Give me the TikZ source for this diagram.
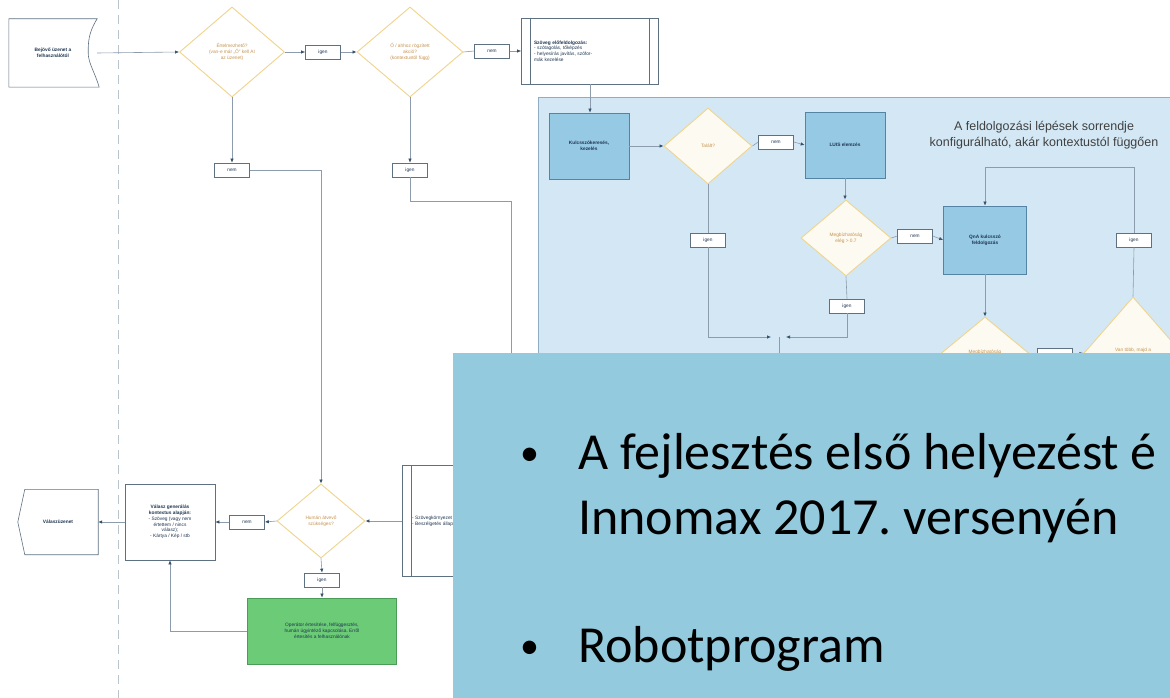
\documentclass[tikz,border=0pt]{standalone}
\usepackage{fontspec}
\setmainfont{Liberation Sans}
\newfontfamily\slidefont{Carlito}
\usetikzlibrary{arrows.meta, shapes.geometric, calc}
\definecolor{flline}{HTML}{8C9CAC}
\definecolor{fltip}{HTML}{34506A}
\definecolor{fledge}{HTML}{5E7182}
\definecolor{flnavy}{HTML}{1E3552}
\definecolor{diaedge}{HTML}{F0D48E}
\definecolor{diatext}{HTML}{C8934E}
\definecolor{panelfill}{HTML}{D3E8F4}
\definecolor{paneledge}{HTML}{8FAEC4}
\definecolor{keyfill}{HTML}{96C9E4}
\definecolor{keyedge}{HTML}{5583A3}
\definecolor{opfill}{HTML}{6CCB76}
\definecolor{opedge}{HTML}{4B9C56}
\definecolor{slidefill}{HTML}{93CADD}
\frenchspacing

\begin{document}
\begin{tikzpicture}[x=1pt, y=-1pt,
    font=\fontsize{4.8}{5.8}\selectfont,
    edge/.style={draw=fledge, line width=0.6pt},
    ln/.style={draw=flline, line width=0.6pt},
    arr/.style={ln, -{Latex[length=4pt, width=3.4pt, color=fltip]}},
    lbl/.style={draw=fledge, fill=white, line width=0.6pt, minimum width=35,
                minimum height=14, inner sep=1pt, text=flnavy},
    dia/.style={diamond, draw=diaedge, fill=white, line width=0.9pt, inner sep=0pt,
                align=center, text=diatext},
    dia2/.style={dia, fill=white!88!diaedge},
    proc/.style={draw=fledge, fill=white, line width=0.6pt, align=center,
                 inner sep=2pt, text=flnavy},
    keybox/.style={draw=keyedge, fill=keyfill, line width=0.7pt, align=center,
                   minimum width=80, minimum height=66, text=flnavy, font=\fontsize{4.8}{5.8}\selectfont\bfseries},
    opbox/.style={draw=opedge, fill=opfill, line width=0.7pt, align=center,
                  minimum width=149, minimum height=66, text=flnavy},
    btxt/.style={anchor=base west, inner sep=0pt, text=black,
                 font=\slidefont\fontsize{52}{65}\selectfont}]

  \useasboundingbox (0,0) rectangle (1170,698);
  \fill[white] (0,0) rectangle (1170,698);

  % lane divider
  \draw[flline!60, line width=0.8pt, dash pattern=on 9pt off 6pt] (118,0) -- (118,698);

  % ---- top row ----
  \node[draw=none, minimum width=88, minimum height=68, align=center,
        text=flnavy, font=\fontsize{4.8}{5.8}\selectfont\bfseries] (msg) at (53,53)
        {Bejövő üzenet a\\felhasználótól};
  \draw[edge] (msg.north west) -- (msg.north east)
     .. controls ($(msg.north east)+(-9,14)$) and ($(msg.east)+(-9,-10)$) .. ($(msg.east)+(-9,0)$)
     .. controls ($(msg.east)+(-9,10)$) and ($(msg.south east)+(-2,-14)$) .. ($(msg.south east)+(2,0)$)
     -- (msg.south west) -- cycle;

  \node[dia, minimum width=105, minimum height=90] (q1) at (232,52)
        {Értelmezhető?\\(van-e már ,,Ő'' kell AI\\az üzenet)};
  \node[lbl] (y1) at (323,52) {igen};
  \node[dia, minimum width=106, minimum height=90] (q2) at (410,52)
        {Ő / ahhoz rögzített\\akció?\\(kontextustól függ)};
  \node[lbl] (n2) at (492,51) {nem};
  \node[proc, minimum width=137, minimum height=66, align=left, text width=112] (prep) at (590,51)
        {\textbf{Szöveg előfeldolgozás:}\\- szótagolás, tőképzés\\- helyesírás javítás, szófor-\\mák kezelése};
  \draw[edge] ($(prep.north west)+(9,0)$) -- ($(prep.south west)+(9,0)$);
  \draw[edge] ($(prep.north east)+(-10,0)$) -- ($(prep.south east)+(-10,0)$);

  \node[lbl] (n1) at (232,170) {nem};
  \node[lbl] (y2) at (410,170) {igen};
  \coordinate (bend2) at (511,201);
  \coordinate (hid1) at (511,380);

  % ---- processing panel ----
  \node[draw=paneledge, fill=panelfill, line width=0.7pt, minimum width=640,
        minimum height=300] (panel) at (858,247) {};
  \node[align=center, text=black!75, font=\fontsize{12.5}{16}\selectfont] (title) at (1044,135)
        {A feldolgozási lépések sorrendje\\konfigurálható, akár kontextustól függően};

  \node[keybox] (kulcs) at (589,146) {Kulcsszókeresés,\\kezelés};
  \node[dia2, minimum width=88, minimum height=76] (talalt) at (708,146) {Talált?};
  \node[lbl] (n3) at (776,142) {nem};
  \node[keybox] (luis) at (845,145) {LUIS elemzés};
  \node[dia2, minimum width=90, minimum height=76] (megb1) at (846,238)
        {Megbízhatóság\\elég > 0.7};
  \node[lbl] (n4) at (915,236) {nem};
  \node[keybox, minimum width=83, minimum height=68] (qna) at (985,240)
        {QnA kulcsszó\\feldolgozás};
  \node[lbl] (y3) at (708,240) {igen};
  \node[lbl] (y4) at (847,306) {igen};
  \node[lbl] (y5) at (1134,240) {igen};
  \node[dia2, minimum width=92, minimum height=76] (megb2) at (985,355)
        {Megbízhatóság\\elég?};
  \node[lbl] (n5) at (1055,355) {nem};
  \node[dia2, minimum width=98, minimum height=112] (tobb) at (1133,353)
        {Van több, majd a\\soron következő};
  \coordinate (joinL) at (771,337);
  \coordinate (joinR) at (786,337);
  \coordinate (join) at (779,337);
  \coordinate (join2) at (779,380);
  \coordinate (loop) at (1134,167);

  % ---- bottom row ----
  \node[draw=none, minimum width=80, minimum height=65, text=flnavy,
        font=\fontsize{4.8}{5.8}\selectfont\bfseries] (reply) at (58,522) {Válaszüzenet};
  \draw[edge] (reply.north east) -- (reply.south east) -- ($(reply.south west)+(7,0)$)
     -- (reply.west) -- ($(reply.north west)+(7,0)$) -- cycle;
  \node[proc, minimum width=90, minimum height=76] (gen) at (170,522)
        {\textbf{Válasz generálás}\\\textbf{kontextus alapján:}\\- Szöveg (vagy nem\\értettem / nincs\\válasz);\\- Kártya / Kép / stb};
  \node[lbl] (n6) at (247,522) {nem};
  \node[dia, minimum width=88, minimum height=74] (human) at (321,521)
        {Humán átvevő\\szükséges?};
  \node[lbl] (y6) at (322,580) {igen};
  \node[opbox] (oper) at (322,631)
        {Operátor értesítése, felfüggesztés,\\humán ügyintéző kapcsolása. Erről\\értesítés a felhasználónak};
  \node[proc, minimum width=100, minimum height=111, align=left, text width=80] (ctx) at (452,521)
        {- Szövegkörnyezet\\- Beszélgetés állapota};
  \draw[edge] ($(ctx.north west)+(10,0)$) -- ($(ctx.south west)+(10,0)$);

  % ---- connectors ----
  \draw[arr] (msg.east) -- (q1.west);
  \draw[arr] (q1.east) -- (y1.west);
  \draw[arr] (y1.east) -- (q2.west);
  \draw[ln] (q2.east) -- (n2.west);
  \draw[arr] (n2.east) -- (prep.west);
  \draw[arr] (q1.south) -- (n1.north);
  \draw[arr] (n1.east) -| (human.north);
  \draw[arr] (q2.south) -- (y2.north);
  \draw[ln] (y2.south) |- (bend2) -- (hid1);

  \draw[arr] (prep.south) -- (prep.south |- kulcs.north);
  \draw[arr] (kulcs.east) -- (talalt.west);
  \draw[ln] (talalt.east) -- (n3.west);
  \draw[arr] (n3.east) -- (luis.west);
  \draw[arr] (luis.south) -- (luis.south |- megb1.north);
  \draw[ln] (megb1.east) -- (n4.west);
  \draw[arr] (n4.east) -- (qna.west);
  \draw[ln] (talalt.south) -- (y3.north);
  \draw[arr] (y3.south) |- (joinL);
  \draw[ln] (megb1.south) -- (y4.north);
  \draw[arr] (y4.south) |- (joinR);
  \draw[ln] (join) -- (join2);
  \draw[ln] (tobb.north) -- (y5.south);
  \draw[arr] (y5.north) -- (loop) -| (qna.north);
  \draw[arr] (qna.south) -- (megb2.north);
  \draw[ln] (megb2.east) -- (n5.west);
  \draw[arr] (n5.east) -- (tobb.west);

  \draw[arr] (ctx.west) -- (human.east);
  \draw[arr] (human.west) -- (n6.east);
  \draw[arr] (n6.west) -- (gen.east);
  \draw[arr] (gen.west) -- (reply.east);
  \draw[arr] (human.south) -- (y6.north);
  \draw[arr] (y6.south) -- (oper.north);
  \draw[arr] (oper.west) -| (gen.south);

  % ---- slide text box over the chart ----
  \node[fill=slidefill, minimum width=717, minimum height=345, inner sep=0pt] (note) at (811.5,525.5) {};
  \node[btxt, font=\slidefont\fontsize{38}{40}\selectfont] (b1) at (520,465) {•};
  \node[btxt] (t1a) at (578,469) {A fejlesztés első helyezést é};
  \node[btxt] (t1b) at (578,534) {Innomax 2017. versenyén};
  \node[btxt, font=\slidefont\fontsize{38}{40}\selectfont] (b2) at (520,658) {•};
  \node[btxt] (t2) at (578,662) {Robotprogram};
\end{tikzpicture}
\end{document}
